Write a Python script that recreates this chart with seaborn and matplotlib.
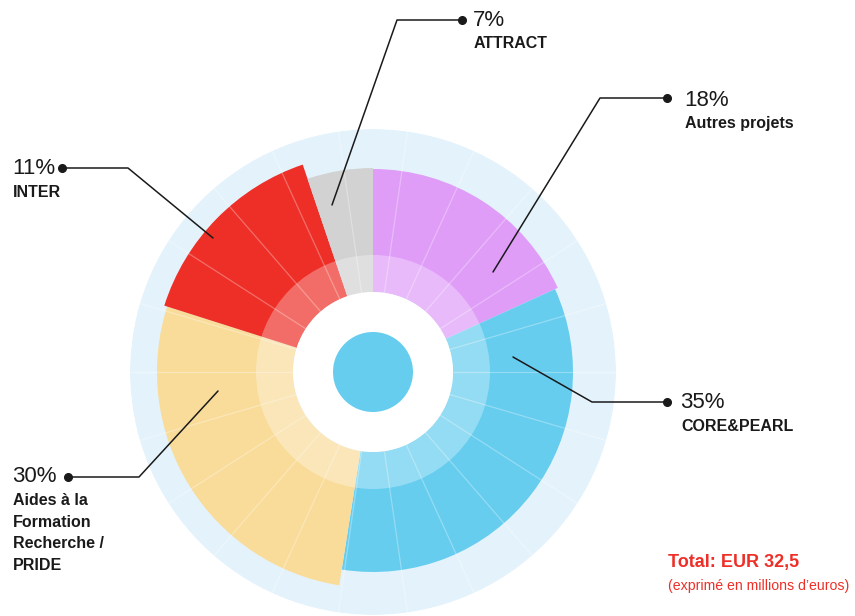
import numpy as np
import matplotlib
matplotlib.use("Agg")
import matplotlib.pyplot as plt
import seaborn as sns

# categories, clockwise from 12 o'clock
categories = ["Autres projets", "CORE&PEARL", "Aides à la\nFormation\nRecherche /\nPRIDE", "INTER", "ATTRACT"]
label_pct = ["18%", "35%", "30%", "11%", "7%"]
# angular share of each wedge as drawn (percent of the circle)
wedge_share = [18.2, 34.3, 27.4, 14.9, 5.2]
# outer radius of each wedge (same units as the rings below)
wedge_radius = [203, 200, 216, 219, 204]
colors = ["#DF9DF8", "#66CDEF", "#F9DC9A", "#EE2F28", "#D2D2D2"]

ring_color = "#E4F3FB"
r_outer, r_hole, r_core, r_light = 243, 80, 40, 117
n_grid = 22

sns.set_theme(style="white")
plt.rcParams["font.family"] = ["Liberation Sans", "DejaVu Sans"]

fig = plt.figure(figsize=(8.55, 6.16), dpi=100)
W, H = 855, 616
cx, cy = 373, 372
ax = fig.add_axes([(cx - r_outer) / W, (H - cy - r_outer) / H, 2 * r_outer / W, 2 * r_outer / H],
                  projection="polar")
ax.set_theta_zero_location("N")
ax.set_theta_direction(-1)
ax.set_ylim(0, r_outer)
ax.set_axis_off()

# background ring
ax.bar(0, r_outer, width=2 * np.pi, bottom=0, color=ring_color, linewidth=0)

# wedges
shares = np.array(wedge_share) / sum(wedge_share) * 2 * np.pi
starts = np.concatenate([[0], np.cumsum(shares)[:-1]])
ax.bar(starts, np.array(wedge_radius) - r_hole, width=shares, bottom=r_hole,
       align="edge", color=colors, linewidth=0)

# lighter inner band
ax.bar(0, r_light - r_hole, width=2 * np.pi, bottom=r_hole, color="white", alpha=0.3, linewidth=0)

# radial grid lines
for k in range(n_grid):
    th = np.pi / n_grid + k * 2 * np.pi / n_grid
    ax.plot([th, th], [r_hole, r_outer], color="white", alpha=0.3, lw=0.9)

# hole and centre disc
ax.bar(0, r_hole, width=2 * np.pi, bottom=0, color="white", linewidth=0)
ax.bar(0, r_core, width=2 * np.pi, bottom=0, color="#66CDEF", linewidth=0)

# overlay for leaders and labels in pixel coordinates
ov = fig.add_axes([0, 0, 1, 1])
ov.set_xlim(0, W)
ov.set_ylim(H, 0)
ov.set_axis_off()
ov.patch.set_alpha(0)

ink = "#1a1a1a"
leaders = [
    [(493, 272), (600, 98), (667, 98)],
    [(513, 357), (592, 402), (667, 402)],
    [(218, 391), (139, 477), (68, 477)],
    [(213, 238), (128, 168), (62, 168)],
    [(332, 205), (397, 20), (462, 20)],
]
label_pos = [(684, 100), (680, 403), (12, 477), (12, 169), (473, 20)]

for pts, (tx, ty), pct, name in zip(leaders, label_pos, label_pct, categories):
    xs, ys = zip(*pts)
    ov.plot(xs, ys, color=ink, lw=1.1)
    ov.plot(xs[-1], ys[-1], "o", color=ink, ms=5.5)
    ov.text(tx, ty, pct, fontsize=16, color=ink, va="center", ha="left")
    ov.text(tx + 1, ty + 16, name, fontsize=11.5, fontweight="bold", color=ink,
            va="top", ha="left", linespacing=1.55)

ov.text(668, 562, "Total: EUR 32,5", fontsize=13, fontweight="bold", color="#EE2F28",
        va="center", ha="left")
ov.text(668, 586, "(exprimé en millions d\u2019euros)", fontsize=10.2, color="#EE2F28",
        va="center", ha="left")

fig.savefig("out.png", dpi=100)
